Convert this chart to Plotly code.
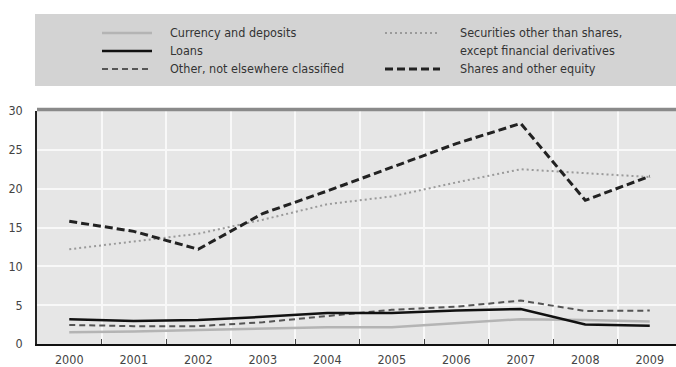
import plotly.graph_objects as go

years = ["2000", "2001", "2002", "2003", "2004", "2005", "2006", "2007", "2008", "2009"]
currency_deposits = [1.5, 1.6, 1.8, 2.0, 2.15, 2.15, 2.65, 3.2, 3.1, 2.9]
loans = [3.2, 2.95, 3.1, 3.5, 4.0, 4.0, 4.3, 4.5, 2.5, 2.35]
other_nec = [2.45, 2.3, 2.3, 2.8, 3.6, 4.4, 4.8, 5.6, 4.25, 4.3]
securities = [12.2, 13.2, 14.2, 16.0, 18.0, 19.0, 20.8, 22.5, 22.0, 21.5]
shares_equity = [15.8, 14.5, 12.2, 16.8, 19.7, 22.8, 25.8, 28.4, 18.5, 21.6]
y_ticks = [0, 5, 10, 15, 20, 25, 30]

names = ["Currency and deposits", "Loans", "Other, not elsewhere classified",
         "Securities other than shares,<br>except financial derivatives", "Shares and other equity"]
series = [currency_deposits, loans, other_nec, securities, shares_equity]
styles = [
    dict(color="#b4b4b4", width=2.5, dash="solid"),
    dict(color="#111111", width=2.5, dash="solid"),
    dict(color="#555555", width=2, dash="6px,4px"),
    dict(color="#9a9a9a", width=2, dash="2px,3px"),
    dict(color="#222222", width=3, dash="8px,4px"),
]

W, H = 676, 367
L, R, T, B = 37, 0, 111, 23
PW, PH = W - L - R, H - T - B
FONT = "DejaVu Sans Condensed, Liberation Sans Narrow, Arial Narrow, sans-serif"
FS = 12.5

xs = list(range(len(years)))
fig = go.Figure()
# dummy trace to activate the boundary axis (grid + ticks between years)
fig.add_trace(go.Scatter(x=[0], y=[None], xaxis="x2", showlegend=False, hoverinfo="skip"))
for i in [0, 3, 2, 1, 4]:
    fig.add_trace(go.Scatter(x=xs, y=series[i], mode="lines", name=names[i],
                             line=styles[i], showlegend=False, hoverinfo="skip"))

def px_x(p):
    return (p - L) / PW

def px_y(p):
    return (H - B - p) / PH

shapes = []
annotations = []
shapes.append(dict(type="rect", xref="paper", yref="paper",
                   x0=px_x(35), x1=px_x(676), y0=px_y(86), y1=px_y(14),
                   fillcolor="#d3d3d3", line=dict(width=0), layer="below"))
shapes.append(dict(type="line", xref="paper", yref="paper", x0=0, x1=1, y0=1.006, y1=1.006,
                   line=dict(color="#8a8a8a", width=3.5)))

legend_pos = [  # (line x0, line x1, text x, row y) in pixels
    (102, 152, 168, 33),
    (102, 152, 168, 51),
    (102, 152, 168, 69),
    (385, 440, 458, 33),
    (385, 440, 458, 69),
]
for i, (lx0, lx1, tx, ry) in enumerate(legend_pos):
    st = styles[i]
    shapes.append(dict(type="line", xref="paper", yref="paper",
                       x0=px_x(lx0), x1=px_x(lx1), y0=px_y(ry), y1=px_y(ry),
                       line=dict(color=st["color"], width=st["width"], dash=st["dash"])))
    for k, part in enumerate(names[i].split("<br>")):
        annotations.append(dict(xref="paper", yref="paper", x=px_x(tx), y=px_y(ry - 1 + 18 * k),
                                yanchor="middle", xanchor="left", text=part, showarrow=False,
                                font=dict(family=FONT, size=FS, color="#333333")))

fig.update_layout(
    width=W, height=H,
    margin=dict(l=L, r=R, t=T, b=B),
    paper_bgcolor="white", plot_bgcolor="#e6e6e6",
    shapes=shapes, annotations=annotations,
    xaxis=dict(range=[-0.5, -0.5 + PW / 64.5], tickvals=xs, ticktext=years,
               showgrid=False, zeroline=False, ticks="", showline=True,
               linecolor="#111111", linewidth=2,
               tickfont=dict(family=FONT, size=FS, color="#444444"), ticklabelstandoff=3),
    xaxis2=dict(range=[-0.5, -0.5 + PW / 64.5], overlaying="x", side="bottom",
                tickvals=[v + 0.5 for v in xs], showticklabels=False,
                showgrid=True, gridcolor="#f8f8f8", gridwidth=1.5,
                ticks="inside", ticklen=5, tickcolor="#444444", zeroline=False),
    yaxis=dict(range=[0, 30], tickvals=y_ticks, showgrid=True, gridcolor="#f8f8f8",
               gridwidth=1.5, zeroline=False, showline=True, linecolor="#222222",
               linewidth=1.5, ticks="", ticklabelstandoff=10,
               tickfont=dict(family=FONT, size=FS, color="#444444")),
)

fig.write_html("out.html")
